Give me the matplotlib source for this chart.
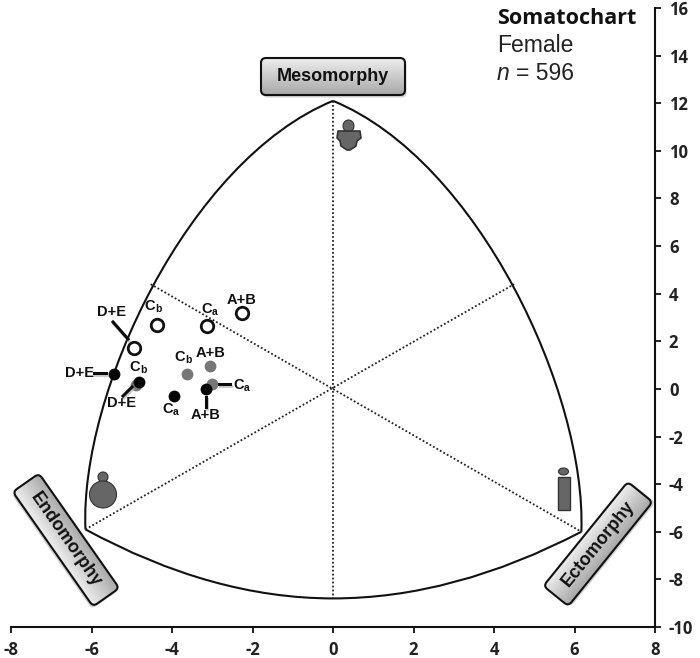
import matplotlib
matplotlib.use('Agg')
import matplotlib.pyplot as plt
import matplotlib.patches as mp
import matplotlib.transforms as mt
from matplotlib.path import Path
import numpy as np

plt.rcParams['axes.unicode_minus'] = False

xticks = [-8, -6, -4, -2, 0, 2, 4, 6, 8]
yticks = [-10, -8, -6, -4, -2, 0, 2, 4, 6, 8, 10, 12, 14, 16]

# outline of the somatochart as bezier control points
left_arc = [(0, 12.1), (-3.6, 9.6), (-6.3, -0.2), (-6.15, -5.9)]
right_arc = [(0, 12.1), (3.6, 9.6), (6.3, -0.2), (6.17, -6.0)]
bottom_arc = [(-6.15, -5.9), (-3.0, -8.8), (0, -8.8), (3.0, -8.8), (6.17, -6.0)]

# dividing lines
div_x = [[0, 0], [-4.53, 6.17], [-6.15, 4.5]]
div_y = [[12.1, -8.8], [4.4, -6.0], [-5.9, 4.4]]

open_x = [-2.27, -3.13, -4.37, -4.94]
open_y = [3.19, 2.65, 2.68, 1.71]
gray_x = [-3.05, -3.62, -3.0, -4.89]
gray_y = [0.97, 0.62, 0.2, 0.17]
black_x = [-3.16, -3.95, -4.83, -5.43]
black_y = [0.0, -0.28, 0.29, 0.62]

fig = plt.figure(figsize=(7, 6.58), dpi=100)
W, H = 700, 658
ax = fig.add_axes([11 / W, 1 - 627 / H, 644 / W, 619 / H])
ax.set_xlim(-8, 8)
ax.set_ylim(-10, 16)
for s in ['top', 'left']:
    ax.spines[s].set_visible(False)
for s in ['bottom', 'right']:
    ax.spines[s].set_linewidth(1.5)
    ax.spines[s].set_color('#111111')
ax.yaxis.tick_right()
ax.set_xticks(xticks)
ax.set_yticks(yticks)
ax.tick_params(length=4, width=1.3, labelsize=12, pad=6, color='#111111')
for lab in ax.get_xticklabels() + ax.get_yticklabels():
    lab.set_family('Open Sans')
    lab.set_fontweight('bold')
    lab.set_color('#222222')

for a, b in zip(div_x, div_y):
    ax.plot(a, b, color='#222222', lw=1.3, ls=(0, (1, 1.2)))
for pts, code in [(left_arc, Path.CURVE4), (right_arc, Path.CURVE4), (bottom_arc, Path.CURVE3)]:
    path = Path(pts, [Path.MOVETO] + [code] * (len(pts) - 1))
    ax.add_patch(mp.PathPatch(path, fc='none', ec='#111111', lw=1.5))

ax.plot(gray_x, gray_y, 'o', color='#777777', ms=8.5, mew=0, zorder=3)
ax.plot(black_x, black_y, 'o', color='#050505', ms=8.5, mew=0, zorder=4)
ax.plot(open_x, open_y, 'o', mfc='white', mec='#111111', ms=9, mew=2, zorder=4)

# overlay in pixels for labels, boxes and the body icons
ov = fig.add_axes([0, 0, 1, 1], facecolor='none')
ov.axis('off')


def label_box(cx, cy, w, h, angle, text, size, flip=False):
    rot = mt.Affine2D().rotate_deg_around(cx, cy, angle) + ov.transData
    shadow = mt.Affine2D().translate(1.5, 2.5) + rot
    ov.add_patch(mp.FancyBboxPatch((cx - w / 2 + 5, cy - h / 2 + 5), w - 10, h - 10, boxstyle='round,pad=5',
                                   fc='#999999', ec='none', alpha=0.45, transform=shadow, zorder=5))
    box = mp.FancyBboxPatch((cx - w / 2 + 5, cy - h / 2 + 5), w - 10, h - 10, boxstyle='round,pad=5',
                            fc='none', ec='#111111', lw=1.5, transform=rot, zorder=7)
    ov.add_patch(box)
    grad = np.linspace(0.93, 0.66, 64).reshape(-1, 1)
    if flip:
        grad = grad[::-1]
    im = ov.imshow(grad, cmap='gray', vmin=0, vmax=1, aspect='auto', zorder=6,
                   extent=(cx - w / 2, cx + w / 2, cy + h / 2, cy - h / 2), transform=rot)
    im.set_clip_path(box)
    ov.text(cx, cy, text, rotation=-angle, rotation_mode='anchor', ha='center', va='center',
            family='Liberation Sans', fontweight='bold', fontsize=size, color='#111111', zorder=8)


label_box(333, 76.5, 144, 37, 0, 'Mesomorphy', 13)
label_box(66, 540, 140, 32, 55, 'Endomorphy', 13, flip=True)
label_box(598, 544, 134, 32, -51, 'Ectomorphy', 13)
ov.set_xlim(0, W)
ov.set_ylim(H, 0)

ov.text(497, 19, 'Somatochart', family='Open Sans', fontweight='bold', fontsize=15.5, va='center', color='#111111')
ov.text(497, 46, 'Female', family='Liberation Sans', fontsize=16.5, va='center', color='#222222')
ov.text(497, 73, 'n', family='Liberation Sans', style='italic', fontsize=16.5, va='center', color='#222222')
ov.text(516, 73, '= 596', family='Liberation Sans', fontsize=16.5, va='center', color='#222222')

# point labels
labels = [('A+B', 242, 300), ('D+E', 111, 312), ('A+B', 211, 353), ('D+E', 79, 373), ('D+E', 122, 403), ('A+B', 206, 415)]
subs = [('C', 'b', 150, 306), ('C', 'a', 207, 309), ('C', 'b', 180, 357), ('C', 'b', 135, 367),
        ('C', 'a', 168, 409), ('C', 'a', 239, 385)]
for t, x, y in labels:
    ov.text(x, y, t, ha='center', va='center', family='Liberation Sans', fontweight='bold', fontsize=10.5, color='#111111')
for t, s, x, y in subs:
    ov.text(x, y, t, ha='center', va='center', family='Liberation Sans', fontweight='bold', fontsize=10.5, color='#111111')
    ov.text(x + 8, y + 3, s, ha='center', va='center', family='Liberation Sans', fontweight='bold', fontsize=7.5, color='#111111')

leaders = [((113, 322), (128, 339)), ((94, 373), (106, 373)), ((123, 396), (132, 387)),
           ((206, 397), (206, 407)), ((219, 384), (230, 384))]
for a, b in leaders:
    ov.plot([a[0] + 1, b[0] + 1], [a[1] + 2, b[1] + 2], color='#aaaaaa', lw=2.2, alpha=0.6)
    ov.plot([a[0], b[0]], [a[1], b[1]], color='#0a0a0a', lw=2.2)

# body type icons
fc, ec = '#666666', '#333333'
ov.add_patch(mp.Ellipse((348.5, 126), 11, 12, fc=fc, ec=ec, lw=0.8))
ov.add_patch(mp.Polygon([(338, 131), (360, 131), (361, 138), (357, 141), (356, 146), (350, 150), (347, 150),
                         (341, 146), (340, 141), (337, 138)], closed=True, fc=fc, ec=ec, lw=1.2, joinstyle='round'))
ov.add_patch(mp.Circle((103, 477), 5, fc=fc, ec=ec, lw=0.8))
ov.add_patch(mp.Circle((103, 494.5), 13.5, fc=fc, ec=ec, lw=0.8))
ov.add_patch(mp.Ellipse((563.5, 471.5), 10, 7, fc=fc, ec=ec, lw=0.8))
ov.add_patch(mp.Rectangle((557.5, 477), 12.5, 33, fc=fc, ec=ec, lw=1))

fig.savefig('out.png', dpi=100)
